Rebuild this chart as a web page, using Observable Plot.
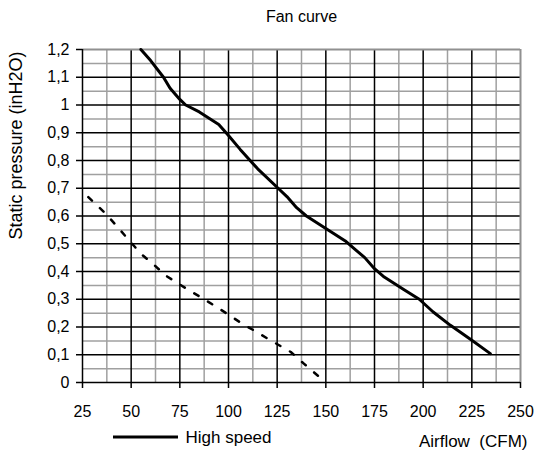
<!DOCTYPE html>
<html>
<head>
<meta charset="utf-8">
<script src="https://cdn.jsdelivr.net/npm/d3@7"></script>
<script src="https://cdn.jsdelivr.net/npm/@observablehq/plot@0.6"></script>
<style>
  html, body { margin: 0; padding: 0; background: #fff; }
  #chart { width: 536px; height: 452px; }
</style>
</head>
<body>
<div id="chart"></div>
<script>
// ---- data ----
const titleText = "Fan curve";
const yLabelText = "Static pressure (inH2O)";
const xLabelText = "Airflow\u00a0 (CFM)";
const legendText = "High speed";

const xTicks = [25, 50, 75, 100, 125, 150, 175, 200, 225, 250];
const yTicks = [0, 0.1, 0.2, 0.3, 0.4, 0.5, 0.6, 0.7, 0.8, 0.9, 1, 1.1, 1.2];
const xMajorGrid = [50, 75, 100, 125, 150, 175, 200, 225];
const xMinorGrid = [37.5, 62.5, 87.5, 112.5, 137.5, 162.5, 187.5, 212.5, 237.5];
const yMajorGrid = [0.1, 0.2, 0.3, 0.4, 0.5, 0.6, 0.7, 0.8, 0.9, 1, 1.1];
const yMinorGrid = [0.05, 0.15, 0.25, 0.35, 0.45, 0.55, 0.65, 0.75, 0.85, 0.95, 1.05, 1.15];

// High speed curve (solid)
const highAirflow  = [55, 60, 66.6, 70, 75, 78, 85, 95, 100, 106, 115, 125.5, 130, 135, 140, 150, 160, 165, 170, 175, 180, 190, 198, 205, 214, 225, 234.5];
const highPressure = [1.2, 1.16, 1.1, 1.06, 1.02, 1.0, 0.975, 0.93, 0.89, 0.84, 0.77, 0.70, 0.67, 0.63, 0.60, 0.555, 0.51, 0.48, 0.45, 0.41, 0.38, 0.335, 0.30, 0.255, 0.206, 0.152, 0.104];

// Second curve (dashed)
const lowAirflow  = [28, 37, 40, 47, 55, 63, 67.6, 77.5, 87.5, 97, 107, 112, 121.6, 132, 138.7, 148];
const lowPressure = [0.668, 0.608, 0.584, 0.528, 0.464, 0.416, 0.386, 0.342, 0.30, 0.258, 0.212, 0.192, 0.152, 0.11, 0.068, 0.012];

const high = highAirflow.map((x, i) => ({x, y: highPressure[i]}));
const low = lowAirflow.map((x, i) => ({x, y: lowPressure[i]}));

const gray = "#a0a0a0";
const fmt = d => String(d).replace(".", ",");

const chart = Plot.plot({
  width: 536,
  height: 452,
  marginTop: 49,
  marginRight: 16,
  marginBottom: 70,
  marginLeft: 82,
  style: {fontFamily: "'Liberation Sans', Arial, sans-serif", fontSize: "16px", background: "#fff", color: "#000"},
  x: {domain: [25, 250]},
  y: {domain: [0, 1.2]},
  marks: [
    Plot.gridX(xMinorGrid, {stroke: gray, strokeOpacity: 1, strokeWidth: 1.5}),
    Plot.gridY(yMinorGrid, {stroke: gray, strokeOpacity: 1, strokeWidth: 1.5}),
    Plot.gridX(xMajorGrid, {stroke: "#000", strokeOpacity: 1, strokeWidth: 1.5}),
    Plot.gridY(yMajorGrid, {stroke: "#000", strokeOpacity: 1, strokeWidth: 1.5}),
    Plot.ruleX([250], {stroke: "#909090", strokeWidth: 2}),
    Plot.ruleY([1.2], {stroke: "#909090", strokeWidth: 2}),
    Plot.ruleX([25], {stroke: "#000", strokeWidth: 1.5}),
    Plot.ruleY([0], {stroke: "#000", strokeWidth: 1.5}),
    Plot.axisX(xTicks, {tickSize: 6, tickPadding: 17, label: null, strokeWidth: 1.5, fontSize: 16}),
    Plot.axisY(yTicks, {tickSize: 6, tickPadding: 7, label: null, strokeWidth: 1.5, fontSize: 16, tickFormat: fmt}),
    Plot.line(low, {x: "x", y: "y", stroke: "#000", strokeWidth: 2.5, strokeDasharray: "5,11"}),
    Plot.line(high, {x: "x", y: "y", stroke: "#000", strokeWidth: 3, strokeLinejoin: "round"}),
    Plot.text([titleText], {text: d => d, frameAnchor: "top", dy: -33, lineAnchor: "middle", fontSize: 16}),
    Plot.text([yLabelText], {text: d => d, frameAnchor: "top-left", dx: -66, dy: 96, rotate: -90, textAnchor: "middle", lineAnchor: "middle", fontSize: 18}),
    Plot.text([xLabelText], {text: d => d, frameAnchor: "bottom-right", dx: 7, dy: 59, textAnchor: "end", lineAnchor: "middle", fontSize: 17}),
    Plot.text([legendText], {text: d => d, frameAnchor: "bottom-left", dx: 103, dy: 55, textAnchor: "start", lineAnchor: "middle", fontSize: 17})
  ]
});

// legend swatch
d3.select(chart).append("line")
  .attr("x1", 113).attr("x2", 178)
  .attr("y1", 437).attr("y2", 437)
  .attr("stroke", "#000").attr("stroke-width", 3);

document.getElementById("chart").appendChild(chart);
</script>
</body>
</html>
